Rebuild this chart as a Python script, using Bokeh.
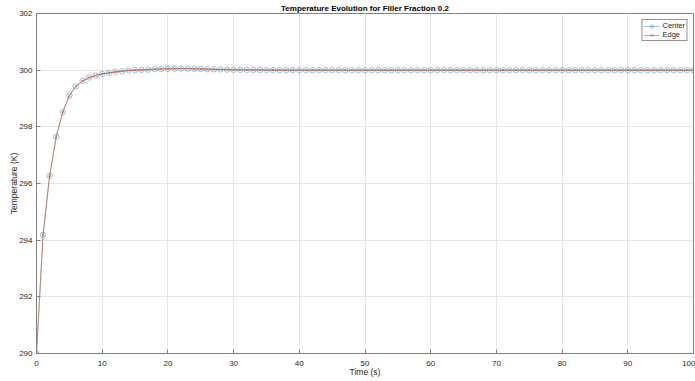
from bokeh.plotting import figure
from bokeh.models import FixedTicker, Range1d, Legend, LegendItem
from bokeh.embed import file_html
from bokeh.resources import INLINE

time_s = list(range(0, 101))

center_K = [290.0, 294.19, 296.27, 297.65, 298.52, 299.10, 299.43, 299.62, 299.74, 299.81,
            299.87, 299.90, 299.94, 299.96, 299.99, 300.00, 300.01, 300.02, 300.035, 300.045,
            300.05, 300.055, 300.055, 300.055, 300.05, 300.045, 300.035, 300.03, 300.025, 300.02,
            300.015, 300.012, 300.01, 300.008, 300.006, 300.005, 300.004, 300.003, 300.002, 300.002,
            300.001, 300.001, 300.001, 300.0, 300.0, 300.0, 300.0, 300.0, 300.0, 300.0,
            300.0, 300.0, 300.0, 300.0, 300.0, 300.0, 300.0, 300.0, 300.0, 300.0,
            300.0, 300.0, 300.0, 300.0, 300.0, 300.0, 300.0, 300.0, 300.0, 300.0,
            300.0, 300.0, 300.0, 300.0, 300.0, 300.0, 300.0, 300.0, 300.0, 300.0,
            300.0, 300.0, 300.0, 300.0, 300.0, 300.0, 300.0, 300.0, 300.0, 300.0,
            300.0, 300.0, 300.0, 300.0, 300.0, 300.0, 300.0, 300.0, 300.0, 300.0,
            300.0]

edge_K = [290.0, 294.19, 296.27, 297.65, 298.52, 299.10, 299.43, 299.62, 299.74, 299.81,
          299.87, 299.90, 299.94, 299.96, 299.99, 300.00, 300.01, 300.02, 300.035, 300.045,
          300.05, 300.055, 300.055, 300.055, 300.05, 300.045, 300.035, 300.03, 300.025, 300.02,
          300.015, 300.012, 300.01, 300.008, 300.006, 300.005, 300.004, 300.003, 300.002, 300.002,
          300.001, 300.001, 300.001, 300.0, 300.0, 300.0, 300.0, 300.0, 300.0, 300.0,
          300.0, 300.0, 300.0, 300.0, 300.0, 300.0, 300.0, 300.0, 300.0, 300.0,
          300.0, 300.0, 300.0, 300.0, 300.0, 300.0, 300.0, 300.0, 300.0, 300.0,
          300.0, 300.0, 300.0, 300.0, 300.0, 300.0, 300.0, 300.0, 300.0, 300.0,
          300.0, 300.0, 300.0, 300.0, 300.0, 300.0, 300.0, 300.0, 300.0, 300.0,
          300.0, 300.0, 300.0, 300.0, 300.0, 300.0, 300.0, 300.0, 300.0, 300.0,
          300.0]

x_ticks = [0, 10, 20, 30, 40, 50, 60, 70, 80, 90, 100]
y_ticks = [290, 292, 294, 296, 298, 300, 302]

FONT = "Liberation Sans"
AX = "#808080"
TXT = "#262626"

p = figure(width=695, height=381, output_backend="svg", toolbar_location=None,
           x_range=Range1d(0, 100), y_range=Range1d(290, 302),
           min_border_left=36, min_border_right=2, min_border_top=0, min_border_bottom=28)

p.title.text = "Temperature Evolution for Filler Fraction 0.2"
p.title.align = "center"
p.title.text_font = FONT
p.title.text_font_size = "8px"
p.title.text_font_style = "bold"
p.title.text_color = "#000000"
p.title.standoff = 2
p.title.offset = 0

for ax in (p.xaxis[0], p.yaxis[0]):
    ax.major_label_text_font = FONT
    ax.major_label_text_font_size = "8px"
    ax.major_label_text_color = TXT
    ax.axis_label_text_font = FONT
    ax.axis_label_text_font_size = "8.5px"
    ax.axis_label_text_font_style = "normal"
    ax.axis_label_text_color = TXT
    ax.axis_line_color = AX
    ax.major_tick_line_color = AX
    ax.major_tick_in = 4
    ax.major_tick_out = 0
    ax.minor_tick_line_color = None

p.xaxis[0].ticker = FixedTicker(ticks=x_ticks)
p.yaxis[0].ticker = FixedTicker(ticks=y_ticks)
p.xaxis[0].axis_label = "Time (s)"
p.yaxis[0].axis_label = "Temperature (K)"
p.xaxis[0].major_label_standoff = 7
p.xaxis[0].axis_label_standoff = -2
p.yaxis[0].major_label_standoff = 4
p.yaxis[0].axis_label_standoff = -3

p.xgrid.ticker = FixedTicker(ticks=x_ticks)
p.ygrid.ticker = FixedTicker(ticks=y_ticks)
p.grid.grid_line_color = "#e6e6e6"
p.outline_line_color = AX
p.outline_line_width = 1

blue = "#0072BD"
orange = "#D95319"

cl = p.line(time_s, center_K, line_color=blue, line_width=0.7, line_alpha=0.6)
cm = p.scatter(time_s, center_K, marker="circle", size=5.5, fill_color=None,
               line_color=blue, line_width=0.8, line_alpha=0.5)
el = p.line(time_s, edge_K, line_color=orange, line_width=0.7, line_alpha=0.85)
em = p.scatter(time_s, edge_K, marker="x", size=3, line_color=orange, line_width=1,
               line_alpha=0.85)

legend = Legend(items=[LegendItem(label="Center", renderers=[cl, cm]),
                       LegendItem(label="Edge", renderers=[el, em])],
                location="top_right", label_text_font=FONT, label_text_font_size="7.5px",
                label_text_color=TXT, glyph_height=8, glyph_width=16, label_height=8,
                spacing=0, padding=1, margin=6, border_line_color="#262626",
                border_line_width=1, background_fill_alpha=1, label_standoff=3)
p.add_layout(legend)

open("out.html", "w").write(file_html(p, INLINE))
